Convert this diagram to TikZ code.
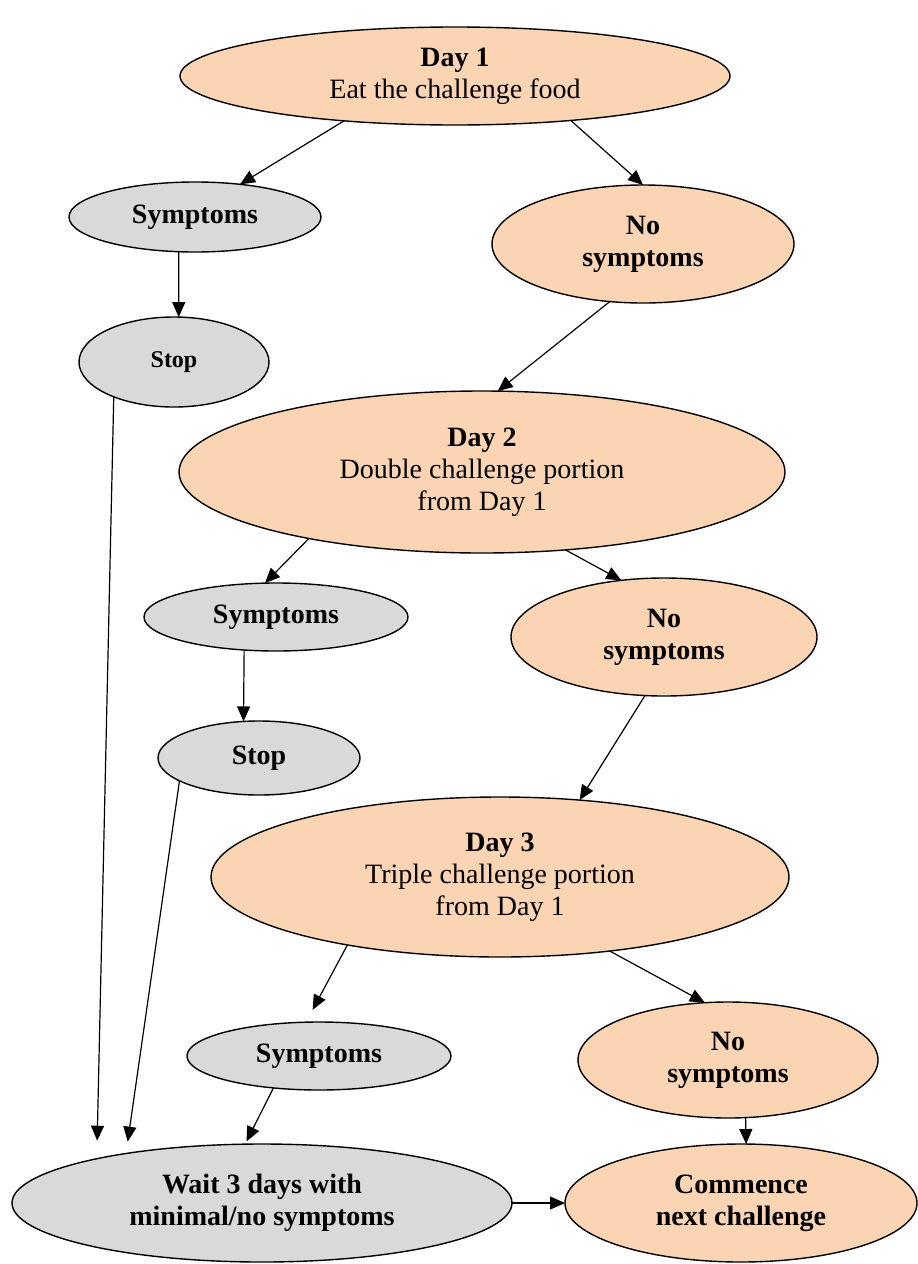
\documentclass[tikz,border=0pt]{standalone}
\usepackage{fontspec}
\setmainfont{Liberation Serif}
\usetikzlibrary{arrows.meta,shapes.geometric}
\definecolor{peach}{HTML}{FBD4B4}
\definecolor{lgrey}{HTML}{D9D9D9}
\begin{document}
\begin{tikzpicture}[x=0.5pt,y=-0.5pt,
 box/.style={ellipse, draw, line width=0.7pt, inner sep=0pt, outer sep=0pt, align=center, font=\fontsize{14}{16}\selectfont},
 orng/.style={box, fill=peach},
 gry/.style={box, fill=lgrey},
 arr/.style={-{Triangle[length=7.5pt,width=6.5pt]}, line width=0.6pt}]
\useasboundingbox (0,0) rectangle (917,1264);

\node[orng, minimum width=275pt, minimum height=49pt] (day1) at (455,76) {\textbf{Day 1}\\Eat the challenge food};
\node[gry, minimum width=126pt, minimum height=35pt] (sym1) at (195,217) {\textbf{Symptoms}};
\node[orng, minimum width=151pt, minimum height=59pt] (nos1) at (643,244) {\textbf{No}\\\textbf{symptoms}};
\node[gry, minimum width=95pt, minimum height=45pt, font=\fontsize{12}{14}\selectfont] (stop1) at (174,362) {\textbf{Stop}};

\node[orng, minimum width=303pt, minimum height=81pt] (day2) at (482,472) {\textbf{Day 2}\\Double challenge portion\\from Day 1};
\node[gry, minimum width=132pt, minimum height=34pt] (sym2) at (276,617) {\textbf{Symptoms}};
\node[orng, minimum width=153pt, minimum height=59pt] (nos2) at (664,637) {\textbf{No}\\\textbf{symptoms}};
\node[gry, minimum width=101pt, minimum height=37pt] (stop2) at (259,758) {\textbf{Stop}};

\node[orng, minimum width=289pt, minimum height=80pt] (day3) at (500,877) {\textbf{Day 3}\\Triple challenge portion\\from Day 1};
\node[gry, minimum width=132pt, minimum height=34pt] (sym3) at (319,1056) {\textbf{Symptoms}};
\node[orng, minimum width=150pt, minimum height=58pt] (nos3) at (728,1060) {\textbf{No}\\\textbf{symptoms}};

\node[gry, minimum width=250pt, minimum height=59pt] (wait) at (262,1203) {\textbf{Wait 3 days with}\\\textbf{minimal/no symptoms}};
\node[orng, minimum width=176pt, minimum height=59pt] (com) at (741,1203) {\textbf{Commence}\\\textbf{next challenge}};

\draw[arr] (day1.202) -- (sym1.36);
\draw[arr] (day1.339) -- (nos1.north);
\draw[arr] (sym1.245) -- (stop1.84);
\draw[arr] (nos1.240) -- (day2.79);
\draw[arr, shorten >=9pt] (stop1.210) -- (wait.165);
\draw[arr] (day2.201) -- (sym2.108);
\draw[arr] (day2.317) -- (nos2.127);
\draw[arr] (sym2.226) -- (stop2.113);
\draw[arr] (nos2.252) -- (day3.44);
\draw[arr, shorten >=6pt] (stop2.196) -- (wait.160);
\draw[arr, shorten >=7pt] (day3.204) -- (sym3.111);
\draw[arr] (day3.326) -- (nos3.112);
\draw[arr, shorten >=1.5pt] (sym3.215) -- (wait.106);
\draw[arr] (nos3.287) -- (com.85);
\draw[arr] (wait.east) -- (com.west);
\end{tikzpicture}
\end{document}
